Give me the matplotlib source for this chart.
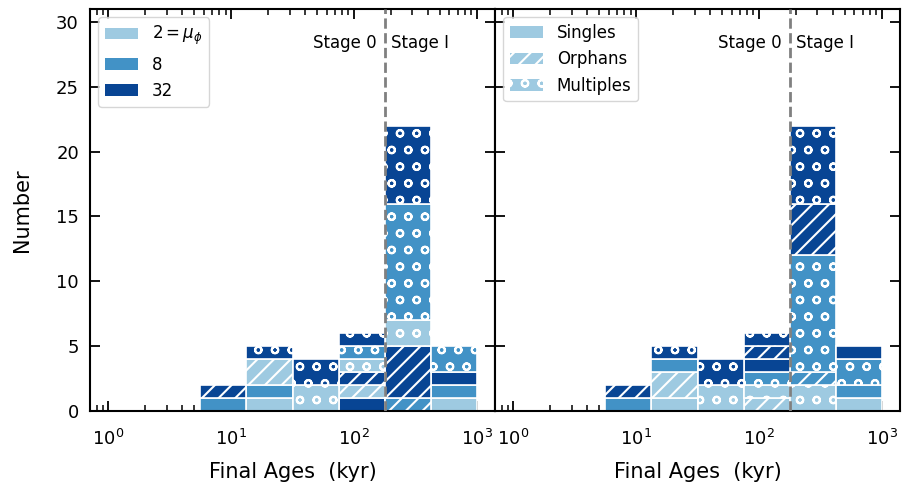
import numpy as np
import matplotlib
matplotlib.use("Agg")
import matplotlib.pyplot as plt
from matplotlib.patches import Patch

# ---- data ----
bin_edges = [5.623, 13.335, 31.623, 74.989, 177.828, 421.697, 1000.0]
mu_labels = ["$2 = \\mu_\\phi$", "8", "32"]
type_labels = ["Singles", "Orphans", "Multiples"]

singles_mu2 = [0, 1, 0, 0, 0, 1]
singles_mu8 = [1, 1, 0, 0, 0, 1]
singles_mu32 = [0, 0, 0, 1, 0, 1]
orphans_mu2 = [0, 2, 0, 1, 0, 0]
orphans_mu8 = [0, 0, 0, 0, 1, 0]
orphans_mu32 = [1, 0, 0, 1, 4, 0]
multiples_mu2 = [0, 0, 2, 1, 2, 0]
multiples_mu8 = [0, 0, 0, 1, 9, 2]
multiples_mu32 = [0, 1, 2, 1, 6, 0]

stage_boundary = 177.828

# ---- styles ----
colors = ["#9ecae1", "#4292c6", "#084594"]
hatches = ["", "//", "o"]

plt.rcParams["hatch.linewidth"] = 1.5

series = {
    (0, 0): singles_mu2, (0, 1): singles_mu8, (0, 2): singles_mu32,
    (1, 0): orphans_mu2, (1, 1): orphans_mu8, (1, 2): orphans_mu32,
    (2, 0): multiples_mu2, (2, 1): multiples_mu8, (2, 2): multiples_mu32,
}

left_edges = np.array(bin_edges[:-1])
widths = np.diff(bin_edges)

fig = plt.figure(figsize=(9.03, 4.91), dpi=100)
W, H = 903.0, 491.0
ax1 = fig.add_axes([90 / W, 80 / H, 405 / W, 402 / H])
ax2 = fig.add_axes([495 / W, 80 / H, 405 / W, 402 / H])


def draw_stack(ax, order):
    bottom = np.zeros(len(left_edges))
    for (t, m) in order:
        vals = np.array(series[(t, m)], dtype=float)
        mask = vals > 0
        ax.bar(left_edges[mask], vals[mask], width=widths[mask], bottom=bottom[mask],
               align="edge", color=colors[m], edgecolor="white", linewidth=1.2,
               hatch=hatches[t], zorder=2)
        bottom += vals


# left: stacked by type, then mu
draw_stack(ax1, [(t, m) for t in range(3) for m in range(3)])
# right: stacked by mu, then type
draw_stack(ax2, [(t, m) for m in range(3) for t in range(3)])

for i, ax in enumerate([ax1, ax2]):
    ax.set_xscale("log")
    ax.set_xlim(10 ** -0.15, 10 ** 3.15)
    ax.set_ylim(0, 31)
    ax.set_yticks([0, 5, 10, 15, 20, 25, 30])
    ax.axvline(stage_boundary, color="gray", ls="--", lw=2, zorder=3)
    ax.annotate("Stage 0", xy=(stage_boundary, 28.4), xytext=(-6, 0),
                textcoords="offset points", ha="right", va="center", fontsize=12)
    ax.annotate("Stage I", xy=(stage_boundary, 28.4), xytext=(5, 0),
                textcoords="offset points", ha="left", va="center", fontsize=12)
    ax.tick_params(which="both", direction="in", top=True, right=True,
                   labelsize=13)
    ax.tick_params(axis="y", pad=8)
    ax.tick_params(axis="x", pad=13)
    ax.tick_params(which="major", length=7, width=1.3)
    ax.tick_params(which="minor", length=4, width=1.1)
    for s in ax.spines.values():
        s.set_linewidth(1.5)
    ax.set_xlabel("Final Ages  (kyr)", fontsize=15, labelpad=9)

ax1.set_ylabel("Number", fontsize=15, labelpad=17)
ax2.tick_params(labelleft=False)

h1 = [Patch(facecolor=colors[m], edgecolor="white", linewidth=0) for m in range(3)]
ax1.legend(h1, mu_labels, loc="upper left", fontsize=12)
h2 = [Patch(facecolor=colors[0], edgecolor="white", linewidth=0, hatch=hatches[t]) for t in range(3)]
ax2.legend(h2, type_labels, loc="upper left", fontsize=12)

fig.savefig("out.png", dpi=100)
